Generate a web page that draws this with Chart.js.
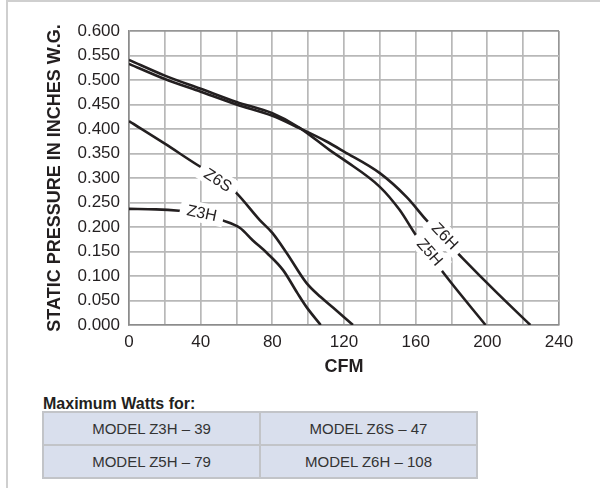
<!DOCTYPE html>
<html>
<head>
<meta charset="utf-8">
<title>Fan Performance</title>
<script src="https://cdn.jsdelivr.net/npm/chart.js@4.4.1/dist/chart.umd.min.js"></script>
<style>
  body { margin: 0; background: #fff; font-family: Arial, "Liberation Sans", sans-serif; }
  #wrap { position: relative; width: 600px; height: 488px; overflow: hidden; }
  #frame { position: absolute; left: 6px; top: 0; width: 620px; height: 520px;
           border-top: 2px solid #cfcfcf; border-left: 2px solid #cfcfcf; }
  #perfChart { position: absolute; left: 0; top: 0; }
  #watts-title { position: absolute; left: 43px; top: 395px; font-size: 16px; font-weight: bold; color: #231f20; }
  #watts { position: absolute; left: 42px; top: 411px; width: 436px; height: 66px;
           border-collapse: collapse; background: #d9dfed; }
  #watts td { border: 2px solid #c2c4c8; text-align: center; font-size: 15px; color: #333; padding: 0; height: 31px; width: 50%; }
</style>
</head>
<body>
<div id="wrap">
  <div id="frame"></div>
  <canvas id="perfChart" width="600" height="390"></canvas>
  <div id="watts-title">Maximum Watts for:</div>
  <table id="watts">
    <tr><td>MODEL Z3H – 39</td><td>MODEL Z6S – 47</td></tr>
    <tr><td>MODEL Z5H – 79</td><td>MODEL Z6H – 108</td></tr>
  </table>
</div>
<script>
// --- Fan curves: airflow (CFM) vs static pressure (in. W.G.) ---
const cfmZ5H = [0, 20, 40, 60, 80, 95, 112, 120, 140, 151, 160, 176, 199];
const spZ5H  = [0.541, 0.509, 0.482, 0.455, 0.432, 0.403, 0.357, 0.337, 0.282, 0.235, 0.184, 0.104, 0];

const cfmZ6H = [0, 20, 40, 60, 80, 95, 110, 120, 140, 155, 166, 186, 205, 224];
const spZ6H  = [0.533, 0.502, 0.476, 0.450, 0.427, 0.402, 0.375, 0.354, 0.310, 0.261, 0.214, 0.137, 0.067, 0];

const cfmZ6S = [0, 20, 38, 50, 60, 73, 80, 88, 99, 107, 114, 125];
const spZ6S  = [0.416, 0.370, 0.327, 0.300, 0.269, 0.214, 0.188, 0.147, 0.086, 0.057, 0.035, 0];

const cfmZ3H = [0, 15, 28, 40, 52, 62, 69, 77, 86, 94, 99, 107];
const spZ3H  = [0.237, 0.236, 0.233, 0.228, 0.214, 0.198, 0.173, 0.147, 0.112, 0.065, 0.037, 0];

// axis ticks
const cfmTicks = [0, 40, 80, 120, 160, 200, 240];
const pressureTicks = [0, 0.05, 0.1, 0.15, 0.2, 0.25, 0.3, 0.35, 0.4, 0.45, 0.5, 0.55, 0.6];

// curve name tags, anchored on the curves
const curveTags = [
    { text: 'Z6S', cfm: 49.7, sp: 0.296, angle: 33 },
    { text: 'Z3H', cfm: 40.7, sp: 0.229, angle: 12 },
    { text: 'Z6H', cfm: 176.4, sp: 0.182, angle: 46 },
    { text: 'Z5H', cfm: 168, sp: 0.149, angle: 49 }
];

const LINE_COLOR = '#231f20';

function toPoints(xs, ys) {
    return xs.map((x, i) => ({ x: x, y: ys[i] }));
}

function curve(label, xs, ys) {
    return {
        label: label,
        data: toPoints(xs, ys),
        borderColor: LINE_COLOR,
        borderWidth: 2.6,
        pointRadius: 0,
        fill: false,
        cubicInterpolationMode: 'monotone'
    };
}

// draws the rotated tags with a white patch that breaks the line underneath
const curveTagPlugin = {
    id: 'curveTags',
    afterDatasetsDraw(chart) {
        const { ctx, scales } = chart;
        ctx.save();
        ctx.font = '16px Arial, "Liberation Sans", sans-serif';
        ctx.textAlign = 'center';
        ctx.textBaseline = 'middle';
        curveTags.forEach(tag => {
            const px = scales.x.getPixelForValue(tag.cfm);
            const py = scales.y.getPixelForValue(tag.sp);
            const w = ctx.measureText(tag.text).width;
            ctx.save();
            ctx.translate(px, py);
            ctx.rotate(tag.angle * Math.PI / 180);
            ctx.fillStyle = '#fff';
            ctx.fillRect(-w / 2 - 7, -10, w + 14, 20);
            ctx.fillStyle = LINE_COLOR;
            ctx.fillText(tag.text, 0, 1);
            ctx.restore();
        });
        ctx.restore();
    }
};

const gridColor = (ctx, max) => (ctx.tick && ctx.tick.value === max) ? '#969696' : '#b8b8b8';

Chart.defaults.font.family = 'Arial, "Liberation Sans", sans-serif';
Chart.defaults.color = '#231f20';

new Chart(document.getElementById('perfChart'), {
    type: 'line',
    data: {
        datasets: [
            curve('Z5H', cfmZ5H, spZ5H),
            curve('Z6H', cfmZ6H, spZ6H),
            curve('Z6S', cfmZ6S, spZ6S),
            curve('Z3H', cfmZ3H, spZ3H)
        ]
    },
    options: {
        responsive: false,
        animation: false,
        devicePixelRatio: 1,
        layout: { padding: { left: 0, top: 31, right: 41, bottom: 0 } },
        plugins: {
            legend: { display: false },
            tooltip: { enabled: false }
        },
        scales: {
            x: {
                type: 'linear',
                min: 0,
                max: 240,
                afterFit: scale => { scale.height = 65; },
                ticks: {
                    stepSize: 20,
                    autoSkip: false,
                    maxRotation: 0,
                    padding: 7,
                    font: { size: 17 },
                    callback: v => cfmTicks.includes(v) ? String(v) : ''
                },
                grid: {
                    drawTicks: false,
                    lineWidth: 1.7,
                    color: ctx => gridColor(ctx, 240)
                },
                border: { color: '#8c8c8c', width: 1.6 },
                title: {
                    display: true,
                    text: 'CFM',
                    font: { size: 18, weight: 'bold' },
                    padding: { top: 0, bottom: 12 }
                }
            },
            y: {
                min: 0,
                max: 0.6,
                afterFit: scale => { scale.width = 129; },
                afterBuildTicks: scale => {
                    scale.ticks = pressureTicks.map(v => ({ value: v }));
                },
                ticks: {
                    padding: 9,
                    font: { size: 17 },
                    callback: v => Number(v).toFixed(3)
                },
                grid: {
                    drawTicks: false,
                    lineWidth: 1.7,
                    color: ctx => gridColor(ctx, 0.6)
                },
                border: { color: '#8c8c8c', width: 1.6 },
                title: {
                    display: true,
                    text: 'STATIC PRESSURE IN INCHES W.G.',
                    font: { size: 18, weight: 'bold' },
                    padding: { top: 44, bottom: 0 }
                }
            }
        }
    },
    plugins: [curveTagPlugin]
});
</script>
</body>
</html>
